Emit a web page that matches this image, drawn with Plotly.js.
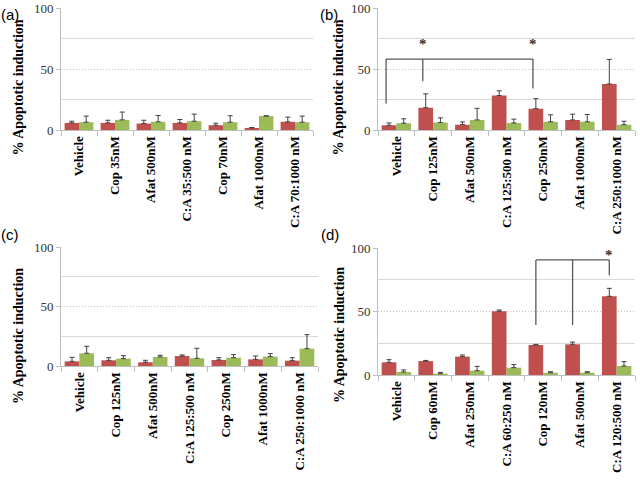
<!DOCTYPE html>
<html>
<head>
<meta charset="utf-8">
<script src="https://cdn.plot.ly/plotly-3.0.1.min.js"></script>
<style>html,body{margin:0;padding:0;background:#fff;}#chart{width:640px;height:480px;}</style>
</head>
<body>
<div id="chart"></div>
<script>
// ---- Data ----
const catsA = ["Vehicle", "Cop 35nM", "Afat 500nM", "C:A 35:500 nM", "Cop 70nM", "Afat 1000nM", "C:A 70:1000 nM"];
const redA = [5.8, 5.8, 5.3, 5.8, 3.9, 1.7, 6.7];
const redErrA = [1.4, 2.2, 2.7, 2.8, 1.7, 0.3, 3.9];
const greenA = [6.4, 8.3, 6.7, 7.2, 6.4, 11.4, 6.4];
const greenErrA = [5.0, 6.4, 5.2, 5.8, 5.3, 0.3, 5.0];

const catsB = ["Vehicle", "Cop 125nM", "Afat 500nM", "C:A 125:500 nM", "Cop 250nM", "Afat 1000nM", "C:A 250:1000 nM"];
const redB = [3.9, 18.3, 4.4, 28.3, 17.5, 8.3, 37.8];
const redErrB = [1.9, 11.4, 2.2, 3.9, 8.3, 4.7, 20.2];
const greenB = [5.6, 6.1, 8.3, 5.8, 6.7, 6.7, 4.4];
const greenErrB = [3.6, 3.9, 9.5, 3.1, 5.8, 6.1, 2.8];

const catsC = ["Vehicle", "Cop 125nM", "Afat 500nM", "C:A 125:500 nM", "Cop 250nM", "Afat 1000nM", "C:A 250:1000 nM"];
const redC = [3.9, 4.8, 3.1, 8.4, 5.1, 5.6, 4.5];
const redErrC = [3.4, 2.2, 1.7, 0.9, 1.9, 2.8, 2.5];
const greenC = [10.7, 6.2, 7.6, 6.5, 7.0, 7.9, 14.6];
const greenErrC = [5.9, 2.5, 1.4, 8.4, 2.6, 2.5, 11.8];

const catsD = ["Vehicle", "Cop 60nM", "Afat 250nM", "C:A 60:250 nM", "Cop 120nM", "Afat 500nM", "C:A 120:500 nM"];
const redD = [10.0, 11.0, 14.5, 50.3, 23.7, 24.2, 62.1];
const redErrD = [2.1, 0.5, 1.3, 1.0, 0.5, 1.8, 6.3];
const greenD = [2.4, 1.05, 3.4, 5.8, 1.8, 1.8, 7.1];
const greenErrD = [1.6, 1.0, 3.4, 2.4, 0.8, 0.8, 3.4];

const yTicks = [0, 50, 100];
const yMinorTicks = [25, 75];
const yTitle = "% Apoptotic induction";
const panelLabels = ["(a)", "(b)", "(c)", "(d)"];

// significance brackets: [x index (of red bar), bottom of vertical]
const bracketB = {top: 58.3, legs: [[0, 21.7], [1, 40], [4, 34]], stars: [[1, 71], [4, 71]]};
const bracketD = {top: 90.8, legs: [[4, 39.4], [5, 39.4], [6, 78.7]], stars: [[6, 94.5]]};

// ---- Styles ----
const RED = "#C0504D", GREEN = "#9BBB59";
const AXC = "#BFBFBF";
const serif = "Liberation Serif, Times New Roman, serif";

function pair(cats, r, re, g, ge, n) {
  const xs = n === 1 ? "x" : "x" + n, ys = n === 1 ? "y" : "y" + n;
  const mk = (vals, errs, col) => ({
    type: "bar", x: cats, y: vals, xaxis: xs, yaxis: ys,
    marker: {color: col, line: {width: 0}},
    error_y: {type: "data", symmetric: false, array: errs, arrayminus: errs.map(() => 0),
      color: "#404040", thickness: 1, width: 2.5},
    showlegend: false, hoverinfo: "skip"
  });
  return [mk(r, re, RED), mk(g, ge, GREEN)];
}

const data = [].concat(
  pair(catsA, redA, redErrA, greenA, greenErrA, 1),
  pair(catsB, redB, redErrB, greenB, greenErrB, 2),
  pair(catsC, redC, redErrC, greenC, greenErrC, 3),
  pair(catsD, redD, redErrD, greenD, greenErrD, 4)
);

function xa(domain, anchor, cats) {
  return {domain: domain, anchor: anchor, type: "category", categoryorder: "array", categoryarray: cats,
    tickmode: "array", tickvals: cats, ticktext: cats.map(c => "<b>" + c + "</b>"),
    range: [-0.5, 6.5], tickangle: -90,
    tickfont: {family: serif, size: 13, color: "#000"},
    showline: true, linecolor: AXC, linewidth: 1, ticks: "outside", tickson: "boundaries",
    ticklen: 5, tickcolor: AXC, showgrid: false, zeroline: false, fixedrange: true};
}
function ya(domain, anchor) {
  return {domain: domain, anchor: anchor, range: [0, 100], tickmode: "array", tickvals: yTicks,
    tickfont: {family: serif, size: 13, color: "#333"},
    showgrid: true, gridcolor: "#BDBDBD", griddash: "1px,2px", gridwidth: 1,
    minor: {tickmode: "array", tickvals: yMinorTicks, showgrid: true, gridcolor: "#D9D9D9", griddash: "solid", ticks: ""},
    showline: true, linecolor: AXC, linewidth: 1, ticks: "outside", ticklen: 4, tickcolor: AXC,
    zeroline: false, fixedrange: true};
}

const shapes = [];
const annotations = [];
function brackets(b, xr, yr, off) {
  const xs = b.legs.map(l => l[0] + off);
  shapes.push({type: "line", xref: xr, yref: yr, x0: Math.min(...xs), x1: Math.max(...xs), y0: b.top, y1: b.top,
    line: {color: "#595959", width: 1.3}});
  b.legs.forEach(l => shapes.push({type: "line", xref: xr, yref: yr, x0: l[0] + off, x1: l[0] + off, y0: l[1], y1: b.top,
    line: {color: "#595959", width: 1.3}}));
  b.stars.forEach(s => annotations.push({xref: xr, yref: yr, x: s[0] + off, y: s[1], text: "<b>*</b>", showarrow: false,
    font: {family: serif, size: 15, color: "#333"}}));
}
brackets(bracketB, "x2", "y2", -0.28);
brackets(bracketD, "x4", "y4", -0.2);

// y titles
[[18, 87.5], [338, 87.5], [18, 336], [339, 335]].forEach(p => annotations.push({
  xref: "paper", yref: "paper", x: p[0] / 640, y: 1 - p[1] / 480, text: "<b>" + yTitle + "</b>", textangle: -90, showarrow: false,
  xanchor: "center", yanchor: "middle",
  font: {family: serif, size: 14, color: "#000"}}));
// panel labels
[[10, 14], [329, 14], [10, 234], [330, 234]].forEach((p, i) => annotations.push({
  xref: "paper", yref: "paper", x: p[0] / 640, y: 1 - p[1] / 480, text: panelLabels[i], showarrow: false,
  xanchor: "center", yanchor: "middle", font: {family: "Liberation Sans, Arial, sans-serif", size: 15, color: "#000"}}));

const layout = {
  width: 640, height: 480, margin: {l: 0, r: 0, t: 0, b: 0},
  paper_bgcolor: "#fff", plot_bgcolor: "#fff",
  barmode: "group", bargap: 0.2, bargroupgap: 0,
  xaxis: xa([61 / 640, 313 / 640], "y", catsA),
  yaxis: ya([350 / 480, 472 / 480], "x"),
  xaxis2: xa([378 / 640, 635 / 640], "y2", catsB),
  yaxis2: ya([350 / 480, 471.7 / 480], "x2"),
  xaxis3: xa([61 / 640, 318 / 640], "y3", catsC),
  yaxis3: ya([114 / 480, 232.7 / 480], "x3"),
  xaxis4: xa([378 / 640, 635 / 640], "y4", catsD),
  yaxis4: ya([105 / 480, 231.7 / 480], "x4"),
  shapes: shapes, annotations: annotations
};

Plotly.newPlot("chart", data, layout, {staticPlot: true, displayModeBar: false});
</script>
</body>
</html>
